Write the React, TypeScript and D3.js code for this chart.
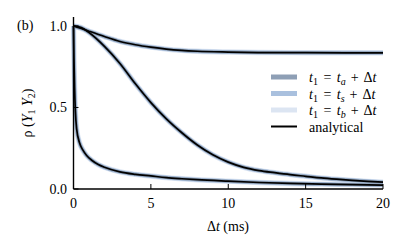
import React, { useEffect, useRef } from "react";
import * as d3 from "d3";

// values
const slowX = [0, 0.5, 1, 2, 3, 4, 5, 6, 7, 8, 10, 12, 15, 20];
const slowY = [1.0, 0.985, 0.968, 0.935, 0.905, 0.885, 0.87, 0.858, 0.85, 0.845, 0.84, 0.837, 0.836, 0.835];

const midX = [0, 0.5, 1, 2, 3, 4, 5, 6, 7, 8, 9, 10, 11, 12, 13, 14, 15, 16, 17, 18, 19, 20];
const midY = [1.0, 0.99, 0.96, 0.875, 0.77, 0.645, 0.53, 0.43, 0.345, 0.27, 0.21, 0.165, 0.133, 0.113, 0.1, 0.088, 0.078, 0.068, 0.06, 0.053, 0.047, 0.042];

const fastX = [0, 0.03, 0.07, 0.12, 0.2, 0.4, 0.6, 0.85, 1.2, 1.6, 2, 3, 4, 5, 6, 7, 8, 10, 12, 14, 16, 18, 20];
const fastY = [1.0, 0.8, 0.62, 0.48, 0.37, 0.28, 0.24, 0.205, 0.175, 0.15, 0.133, 0.105, 0.09, 0.08, 0.07, 0.063, 0.057, 0.048, 0.04, 0.034, 0.03, 0.027, 0.024];

const xTicks = [0, 5, 10, 15, 20];
const yTicks = [0, 0.5, 1.0];

const simNames = ["a", "s", "b"];
const simColors = ["#8e9fb5", "#a9c0de", "#dce5f2"];

const curves = [
  { xs: slowX, ys: slowY },
  { xs: midX, ys: midY },
  { xs: fastX, ys: fastY },
];

const W = 408;
const H = 252;
const FONT = "Liberation Serif, Times New Roman, serif";
const FS = "14px";
const SUB = "10px";

export default function App() {
  const svgRef = useRef<SVGSVGElement>(null);

  useEffect(() => {
    if (!svgRef.current) return;
    const svg = d3.select(svgRef.current);
    svg.selectAll("*").remove();

    const x = d3.scaleLinear().domain([0, 20]).range([73.5, 383]);
    const y = d3.scaleLinear().domain([0, 1.055]).range([189, 17]);

    const line = d3
      .line<[number, number]>()
      .x((d) => x(d[0]))
      .y((d) => y(d[1]))
      .curve(d3.curveMonotoneX);

    const plot = svg.append("g");

    // simulated bands underneath, widest/lightest first
    const widths = [3.0, 4.0, 5.4];
    [2, 1, 0].forEach((i) => {
      curves.forEach((c) => {
        const pts = c.xs.map((v, k) => [v, c.ys[k]] as [number, number]);
        plot
          .append("path")
          .attr("d", line(pts))
          .attr("fill", "none")
          .attr("stroke", simColors[i])
          .attr("stroke-width", widths[i])
          .attr("stroke-linejoin", "round");
      });
    });

    // analytical
    curves.forEach((c) => {
      const pts = c.xs.map((v, k) => [v, c.ys[k]] as [number, number]);
      plot
        .append("path")
        .attr("d", line(pts))
        .attr("fill", "none")
        .attr("stroke", "#000")
        .attr("stroke-width", 1.7);
    });

    // spines
    svg
      .append("line")
      .attr("x1", x(0))
      .attr("x2", x(0))
      .attr("y1", y(1.055))
      .attr("y2", y(0))
      .attr("stroke", "#000")
      .attr("stroke-width", 1.4);
    svg
      .append("line")
      .attr("x1", x(0))
      .attr("x2", x(20))
      .attr("y1", y(0))
      .attr("y2", y(0))
      .attr("stroke", "#000")
      .attr("stroke-width", 1.4);

    // ticks (inward)
    xTicks.forEach((t) => {
      svg
        .append("line")
        .attr("x1", x(t))
        .attr("x2", x(t))
        .attr("y1", y(0))
        .attr("y2", y(0) - 5)
        .attr("stroke", "#000")
        .attr("stroke-width", 1);
      svg
        .append("text")
        .attr("x", x(t))
        .attr("y", 207.5)
        .attr("text-anchor", "middle")
        .style("font-family", FONT)
        .style("font-size", FS)
        .text(t);
    });
    yTicks.forEach((t) => {
      svg
        .append("line")
        .attr("x1", x(0))
        .attr("x2", x(0) + 5)
        .attr("y1", y(t))
        .attr("y2", y(t))
        .attr("stroke", "#000")
        .attr("stroke-width", 1);
      svg
        .append("text")
        .attr("x", 67)
        .attr("y", y(t) + 5)
        .attr("text-anchor", "end")
        .style("font-family", FONT)
        .style("font-size", FS)
        .text(t.toFixed(1));
    });

    // labels
    svg
      .append("text")
      .attr("x", 17)
      .attr("y", 30)
      .style("font-family", FONT)
      .style("font-size", FS)
      .text("(b)");

    const xl = svg
      .append("text")
      .attr("x", 228)
      .attr("y", 231)
      .attr("text-anchor", "middle")
      .style("font-family", FONT)
      .style("font-size", FS);
    xl.append("tspan").text("Δ");
    xl.append("tspan").attr("font-style", "italic").text("t");
    xl.append("tspan").text("  (ms)");

    const yl = svg
      .append("text")
      .attr("transform", `translate(32,113) rotate(-90)`)
      .attr("text-anchor", "middle")
      .style("font-family", FONT)
      .style("font-size", FS);
    yl.append("tspan").text("ρ (");
    yl.append("tspan").attr("font-style", "italic").text("Y");
    yl.append("tspan").style("font-size", SUB).attr("dy", 3).text("1");
    yl.append("tspan").attr("font-style", "italic").attr("dy", -3).text(" Y");
    yl.append("tspan").style("font-size", SUB).attr("dy", 3).text("2");
    yl.append("tspan").attr("dy", -3).text(")");

    // legend
    const leg = svg.append("g");
    const rowY = [77, 93.5, 110, 126.5];
    simNames.forEach((n, i) => {
      leg
        .append("line")
        .attr("x1", 271)
        .attr("x2", 297)
        .attr("y1", rowY[i])
        .attr("y2", rowY[i])
        .attr("stroke", simColors[i])
        .attr("stroke-width", 5);
      const t = leg
        .append("text")
        .attr("x", 309)
        .attr("y", rowY[i] + 5)
        .style("font-family", FONT)
        .style("font-size", FS);
      t.append("tspan").attr("font-style", "italic").text("t");
      t.append("tspan").style("font-size", SUB).attr("dy", 3).text("1");
      t.append("tspan").attr("dy", -3).attr("dx", 2).text(" = ");
      t.append("tspan").attr("dx", 2).attr("font-style", "italic").text("t");
      t.append("tspan").style("font-size", SUB).attr("font-style", "italic").attr("dy", 3).text(n);
      t.append("tspan").attr("dy", -3).attr("dx", 1.5).text(" + ");
      t.append("tspan").attr("dx", 1.5).text("Δ");
      t.append("tspan").attr("font-style", "italic").text("t");
    });
    leg
      .append("line")
      .attr("x1", 271)
      .attr("x2", 297)
      .attr("y1", rowY[3])
      .attr("y2", rowY[3])
      .attr("stroke", "#000")
      .attr("stroke-width", 2);
    leg
      .append("text")
      .attr("x", 309)
      .attr("y", rowY[3] + 5)
      .style("font-family", FONT)
      .style("font-size", FS)
      .text("analytical");
  }, []);

  return (
    <div style={{ position: "fixed", left: 0, top: 0, width: W, height: H, background: "#fff" }}>
      <svg ref={svgRef} width={W} height={H}></svg>
    </div>
  );
}
